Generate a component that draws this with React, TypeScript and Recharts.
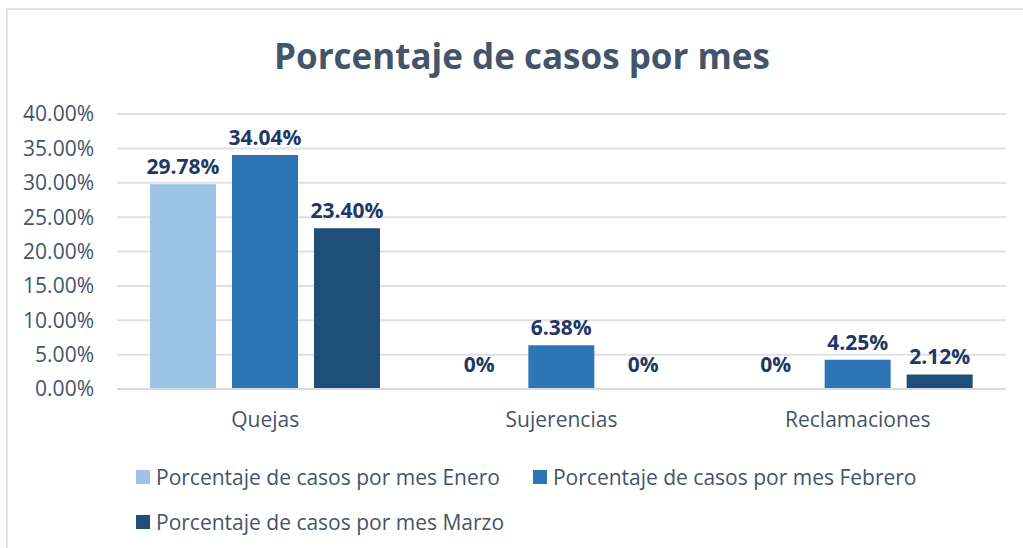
import { BarChart, Bar, XAxis, YAxis, CartesianGrid, LabelList } from 'recharts';

const categories = ['Quejas', 'Sujerencias', 'Reclamaciones'];
const enero = [29.78, 0, 0];
const febrero = [34.04, 6.38, 4.25];
const marzo = [23.4, 0, 2.12];
const yTicks = [0, 5, 10, 15, 20, 25, 30, 35, 40];

const SERIES = [
  { key: 'enero', name: 'Porcentaje de casos por mes Enero', color: '#9DC3E6' },
  { key: 'febrero', name: 'Porcentaje de casos por mes Febrero', color: '#2E75B6' },
  { key: 'marzo', name: 'Porcentaje de casos por mes Marzo', color: '#1F4E79' },
];

const FONT = '"Open Sans", sans-serif';
const TEXT = '#44546A';

const data = categories.map((c, i) => ({
  name: c,
  enero: enero[i],
  febrero: febrero[i],
  marzo: marzo[i],
}));

const fmtLabel = (v: any) => (Number(v) === 0 ? '0%' : Number(v).toFixed(2) + '%');

// excel keeps small labels from sinking into the axis
const renderLabel = (p: any) => {
  const { x, y, width, height, value } = p;
  const top = Math.min(y, y + height);
  const base = Math.max(y, y + height);
  const ty = Math.min(top - 10, base - 17);
  return (
    <text
      x={x + width / 2}
      y={ty}
      textAnchor="middle"
      fill="#1F3864"
      fontSize={21}
      fontWeight={700}
      fontFamily={FONT}
    >
      {fmtLabel(value)}
    </text>
  );
};

// zero bars get a hair of height so their label is still drawn
const minSize = (v: any) => (Number(v) === 0 ? 0.01 : 0);

export default function App() {
  return (
    <div
      style={{
        position: 'absolute', left: 6, top: 8, width: 1100, height: 600,
        borderTop: '2px solid #e1e5eb', borderLeft: '2px solid #e1e5eb',
        fontFamily: FONT, background: '#fff',
      }}
    >
      <div
        style={{
          position: 'absolute', left: 214, width: 600, top: 22, textAlign: 'center',
          fontSize: 35, fontWeight: 700, color: TEXT, whiteSpace: 'nowrap',
        }}
      >
        Porcentaje de casos por mes
      </div>
      <BarChart
        width={1040}
        height={440}
        data={data}
        margin={{ top: 104, right: 42, left: 9, bottom: 21 }}
        barSize={66}
        barGap={16}
        style={{ fontFamily: FONT }}
      >
        <CartesianGrid vertical={false} stroke="#dce1e8" strokeWidth={2} />
        <XAxis
          dataKey="name"
          height={40}
          axisLine={{ stroke: '#d6dbe2', strokeWidth: 2 }}
          tickLine={false}
          tickSize={0}
          tickMargin={23}
          tick={{ fill: TEXT, fontSize: 21 }}
        />
        <YAxis
          width={100}
          domain={[0, 40]}
          ticks={yTicks}
          axisLine={false}
          tickLine={false}
          tickSize={0}
          tickMargin={23}
          tick={{ fill: TEXT, fontSize: 21 }}
          tickFormatter={(v) => v.toFixed(2) + '%'}
        />
        {SERIES.map((s) => (
          <Bar
            key={s.key}
            dataKey={s.key}
            name={s.name}
            fill={s.color}
            minPointSize={minSize}
            isAnimationActive={false}
          >
            <LabelList dataKey={s.key} content={renderLabel} />
          </Bar>
        ))}
      </BarChart>
      <div
        style={{
          position: 'absolute', left: 128, top: 453, width: 860,
          display: 'flex', flexWrap: 'wrap', columnGap: 33, rowGap: 18,
          fontSize: 21, color: TEXT,
        }}
      >
        {SERIES.map((s) => (
          <div key={s.key} style={{ display: 'flex', alignItems: 'center', height: 27 }}>
            <span style={{ width: 14, height: 14, background: s.color, marginRight: 6 }} />
            <span>{s.name}</span>
          </div>
        ))}
      </div>
    </div>
  );
}
